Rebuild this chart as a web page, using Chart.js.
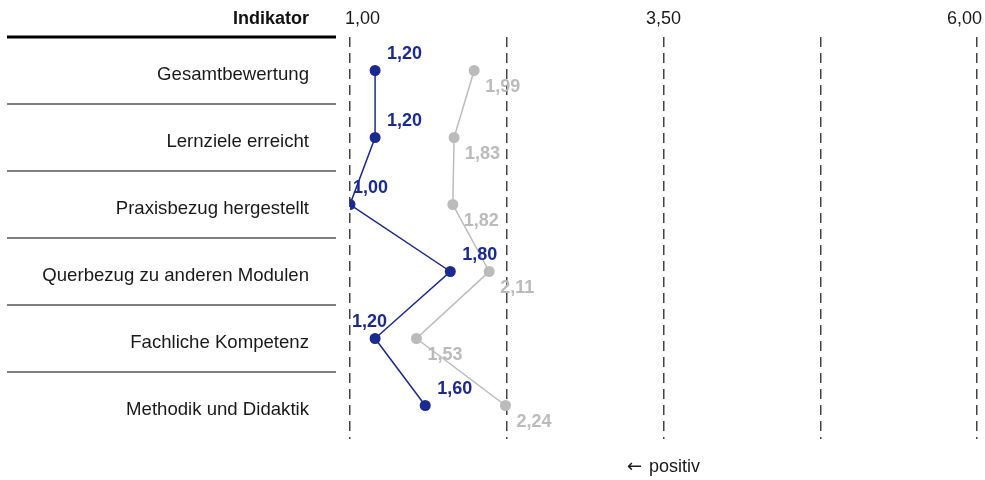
<!DOCTYPE html>
<html>
<head>
<meta charset="utf-8">
<script src="https://cdn.jsdelivr.net/npm/chart.js@4.4.1/dist/chart.umd.min.js"></script>
<style>
  html, body { margin: 0; padding: 0; background: #ffffff; }
  #wrap { width: 985px; height: 480px; position: relative; }
</style>
</head>
<body>
<div id="wrap"><canvas id="c"></canvas></div>
<script>
// ---- data ----
const categories = [
  "Gesamtbewertung",
  "Lernziele erreicht",
  "Praxisbezug hergestellt",
  "Querbezug zu anderen Modulen",
  "Fachliche Kompetenz",
  "Methodik und Didaktik"
];
const blueValues = [1.20, 1.20, 1.00, 1.80, 1.20, 1.60];
const grayValues = [1.99, 1.83, 1.82, 2.11, 1.53, 2.24];
const tickLabelValues = [1.00, 3.50, 6.00];
const headerLabel = "Indikator";
const footerArrow = "\u2190";
const footerLabel = "positiv";

// ---- styles ----
const BLUE = "#1b2a8e";
const GRAY = "#bbbbbb";
const FONT = "'Liberation Sans', Arial, Helvetica, sans-serif";
const blueLabelDx = [12, 12, 3, 12, -23, 12];

function fmt(v) { return v.toFixed(2).replace('.', ','); }

const overlay = {
  id: 'overlay',
  afterDraw(chart) {
    const ctx = chart.ctx;
    const xs = chart.scales.x, ys = chart.scales.y;
    const area = chart.chartArea;
    const n = categories.length;
    const step = (area.bottom - area.top) / n;
    ctx.save();
    // separators
    for (let i = 0; i < n; i++) {
      const y = area.top + i * step;
      ctx.beginPath();
      ctx.moveTo(7, y);
      ctx.lineTo(336, y);
      if (i === 0) { ctx.strokeStyle = '#000'; ctx.lineWidth = 3; }
      else { ctx.strokeStyle = '#555'; ctx.lineWidth = 1.6; }
      ctx.stroke();
    }
    // category labels
    ctx.fillStyle = '#1a1a1a';
    ctx.textBaseline = 'middle';
    ctx.textAlign = 'right';
    ctx.font = "18.6px " + FONT;
    categories.forEach((c, i) => {
      ctx.fillText(c, 309, ys.getPixelForValue(i) + 4);
    });
    // header
    ctx.fillStyle = '#111';
    ctx.font = "bold 18px " + FONT;
    ctx.fillText(headerLabel, 309, 19);
    // top tick labels
    ctx.fillStyle = '#1a1a1a';
    ctx.font = "18px " + FONT;
    tickLabelValues.forEach((v, i) => {
      const px = xs.getPixelForValue(v);
      if (i === 0) { ctx.textAlign = 'left'; ctx.fillText(fmt(v), px - 5, 19); }
      else if (i === tickLabelValues.length - 1) { ctx.textAlign = 'right'; ctx.fillText(fmt(v), px + 5, 19); }
      else { ctx.textAlign = 'center'; ctx.fillText(fmt(v), px, 19); }
    });
    // footer
    const cx = xs.getPixelForValue(3.5);
    ctx.textAlign = 'left';
    ctx.font = "18px " + FONT;
    const wLabel = ctx.measureText(footerLabel).width;
    ctx.font = "18px 'DejaVu Sans', sans-serif";
    const wArrow = ctx.measureText(footerArrow).width;
    const gap = 7;
    const startX = cx - (wArrow + gap + wLabel) / 2;
    ctx.fillText(footerArrow, startX, 467);
    ctx.font = "18px " + FONT;
    ctx.fillText(footerLabel, startX + wArrow + gap, 467);
    // data labels
    ctx.font = "bold 18px " + FONT;
    ctx.textAlign = 'left';
    const m0 = chart.getDatasetMeta(0).data;
    const m1 = chart.getDatasetMeta(1).data;
    m1.forEach((pt, i) => {
      ctx.fillStyle = GRAY;
      ctx.fillText(fmt(grayValues[i]), pt.x + 11, pt.y + 17);
    });
    m0.forEach((pt, i) => {
      ctx.fillStyle = BLUE;
      ctx.fillText(fmt(blueValues[i]), pt.x + blueLabelDx[i], pt.y - 16);
    });
    ctx.restore();
  }
};

new Chart(document.getElementById('c'), {
  type: 'line',
  data: {
    labels: categories,
    datasets: [
      {
        label: 'Blau',
        data: blueValues,
        borderColor: BLUE,
        backgroundColor: BLUE,
        borderWidth: 1.5,
        pointRadius: 5.5,
        pointHoverRadius: 5.5,
        pointBorderWidth: 0,
        tension: 0,
        order: 0
      },
      {
        label: 'Grau',
        data: grayValues,
        borderColor: GRAY,
        backgroundColor: GRAY,
        borderWidth: 1.5,
        pointRadius: 5.5,
        pointHoverRadius: 5.5,
        pointBorderWidth: 0,
        tension: 0,
        order: 1
      }
    ]
  },
  options: {
    indexAxis: 'y',
    responsive: true,
    maintainAspectRatio: false,
    animation: false,
    layout: { padding: { left: 0, right: 8, top: 0, bottom: 41 } },
    plugins: {
      legend: { display: false },
      tooltip: { enabled: false }
    },
    scales: {
      x: {
        type: 'linear',
        position: 'top',
        min: 1,
        max: 6,
        ticks: { stepSize: 1.25, display: false },
        grid: {
          color: '#444',
          lineWidth: 1.5,
          drawTicks: false
        },
        border: { display: false, dash: [10, 6] },
        afterFit(scale) { scale.height = 37; }
      },
      y: {
        type: 'category',
        position: 'left',
        offset: true,
        grid: { display: false, drawTicks: false },
        border: { display: false },
        ticks: { display: false },
        afterFit(scale) { scale.width = 350; }
      }
    }
  },
  plugins: [overlay]
});
</script>
</body>
</html>
